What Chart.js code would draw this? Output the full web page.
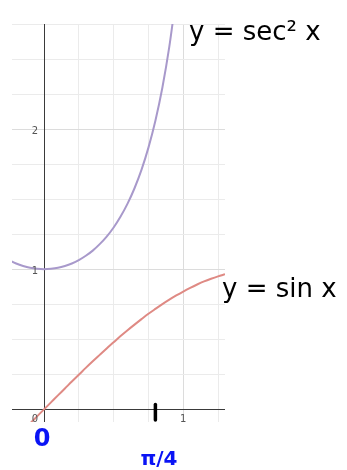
<!DOCTYPE html>
<html><head><meta charset="utf-8">
<script src="https://cdn.jsdelivr.net/npm/chart.js@4"></script>
<style>html,body{margin:0;padding:0;background:#fff}#wrap{width:347px;height:470px}</style>
</head><body><div id="wrap"><canvas id="c" width="347" height="470"></canvas></div>
<script>
// x samples
const xs = [-0.25,-0.2,-0.15,-0.1,-0.05,0,0.05,0.1,0.15,0.2,0.25,0.3,0.35,0.4,0.45,0.5,0.55,0.6,0.65,0.7,0.75,0.8,0.85,0.9,0.95,1.0,1.05,1.1,1.15,1.2,1.25,1.3];
// y = sec^2 x (runs off the top near x=0.93)
const secSqValues = [1.065,1.041,1.023,1.010,1.003,1.000,1.003,1.010,1.023,1.041,1.065,1.096,1.133,1.179,1.233,1.298,1.376,1.468,1.578,1.709,1.868,2.060,2.295,2.588,2.955];
// y = sin x
const sinValues = [-0.247,-0.199,-0.149,-0.100,-0.050,0,0.050,0.100,0.149,0.199,0.247,0.296,0.343,0.389,0.435,0.479,0.523,0.565,0.605,0.644,0.682,0.717,0.751,0.783,0.813,0.841,0.867,0.891,0.913,0.932,0.949,0.964];
const xTickLabels = [0, 1];
const yTickLabels = [1, 2];
const piOver4Mark = 0.8;
const labelSec = 'y = sec\u00B2 x';
const labelSin = 'y = sin x';
const labelZero = '0';
const labelPi = '\u03C0/4';

const gridTicks = (min,max)=>{const t=[];for(let v=Math.ceil(min/0.25)*0.25;v<=max+1e-9;v+=0.25)t.push({value:Math.round(v*100)/100});return t;};
const gridColor = ctx => {
  const v = ctx.tick ? ctx.tick.value : null;
  if (v === 0) return 'rgba(0,0,0,0)';
  if (v !== null && Math.abs(v - Math.round(v)) < 1e-6) return '#dcdcdc';
  return '#ebebeb';
};

const overlay = {
  id:'overlay',
  beforeDatasetsDraw(chart){
    const {ctx, chartArea:a, scales:{x,y}} = chart;
    ctx.save();
    ctx.strokeStyle = '#3a3a3a'; ctx.lineWidth = 1;
    const x0 = Math.round(x.getPixelForValue(0)) + 0.5;
    const y0 = Math.round(y.getPixelForValue(0)) + 0.5;
    ctx.beginPath(); ctx.moveTo(x0, a.top); ctx.lineTo(x0, a.bottom); ctx.stroke();
    ctx.beginPath(); ctx.moveTo(a.left, y0); ctx.lineTo(a.right, y0); ctx.stroke();
    ctx.restore();
  },
  afterDatasetsDraw(chart){
    const {ctx, scales:{x,y}} = chart;
    ctx.save();
    // tick labels
    ctx.fillStyle = '#555';
    ctx.font = '10px "DejaVu Sans", sans-serif';
    ctx.textAlign = 'center'; ctx.textBaseline = 'middle';
    yTickLabels.forEach(v=>{ ctx.fillText(String(v), x.getPixelForValue(0)-9, y.getPixelForValue(v)+2); });
    xTickLabels.forEach(v=>{ ctx.fillText(String(v), x.getPixelForValue(v)-(v===0?9:0), y.getPixelForValue(0)+10); });
    // pi/4 marker
    ctx.strokeStyle = '#000'; ctx.lineWidth = 3.5; ctx.lineCap = 'round';
    const mx = x.getPixelForValue(piOver4Mark);
    ctx.beginPath(); ctx.moveTo(mx, y.getPixelForValue(0.035)); ctx.lineTo(mx, y.getPixelForValue(-0.075)); ctx.stroke();
    // curve labels
    ctx.fillStyle = '#000';
    ctx.textAlign = 'left'; ctx.textBaseline = 'alphabetic';
    ctx.font = '26px "DejaVu Sans", sans-serif';
    ctx.fillText(labelSin, 222, 297);
    ctx.font = '26px "DejaVu Sans", sans-serif';
    ctx.fillText(labelSec, 189, 40);
    // blue labels
    ctx.fillStyle = '#0a14f5';
    ctx.textAlign = 'center'; ctx.textBaseline = 'middle';
    ctx.font = 'bold 24px "DejaVu Sans", sans-serif';
    ctx.fillText(labelZero, 42, 440);
    ctx.font = 'bold 20px "DejaVu Sans", sans-serif';
    ctx.fillText(labelPi, 159, 460);
    ctx.restore();
  }
};

new Chart(document.getElementById('c'), {
  type:'scatter',
  data:{datasets:[
    {data: secSqValues.map((v,i)=>({x:xs[i], y:v})), showLine:true, borderColor:'#a899cb', borderWidth:2, pointRadius:0, tension:0.4, cubicInterpolationMode:'monotone'},
    {data: sinValues.map((v,i)=>({x:xs[i], y:v})), showLine:true, borderColor:'#df8a84', borderWidth:2, pointRadius:0, tension:0.4, cubicInterpolationMode:'monotone'}
  ]},
  options:{
    responsive:false, animation:false, devicePixelRatio:1,
    layout:{padding:{left:12, top:24, right:122, bottom:48}},
    plugins:{legend:{display:false}, tooltip:{enabled:false}},
    scales:{
      x:{type:'linear', min:-0.23, max:1.3, afterBuildTicks:s=>{s.ticks=gridTicks(-0.23,1.3);},
         ticks:{display:false}, grid:{color:gridColor, drawTicks:false, lineWidth:1}, border:{display:false}},
      y:{type:'linear', min:-0.09, max:2.75, afterBuildTicks:s=>{s.ticks=gridTicks(-0.09,2.75);},
         ticks:{display:false}, grid:{color:gridColor, drawTicks:false, lineWidth:1}, border:{display:false}}
    }
  },
  plugins:[overlay]
});
</script></body></html>
